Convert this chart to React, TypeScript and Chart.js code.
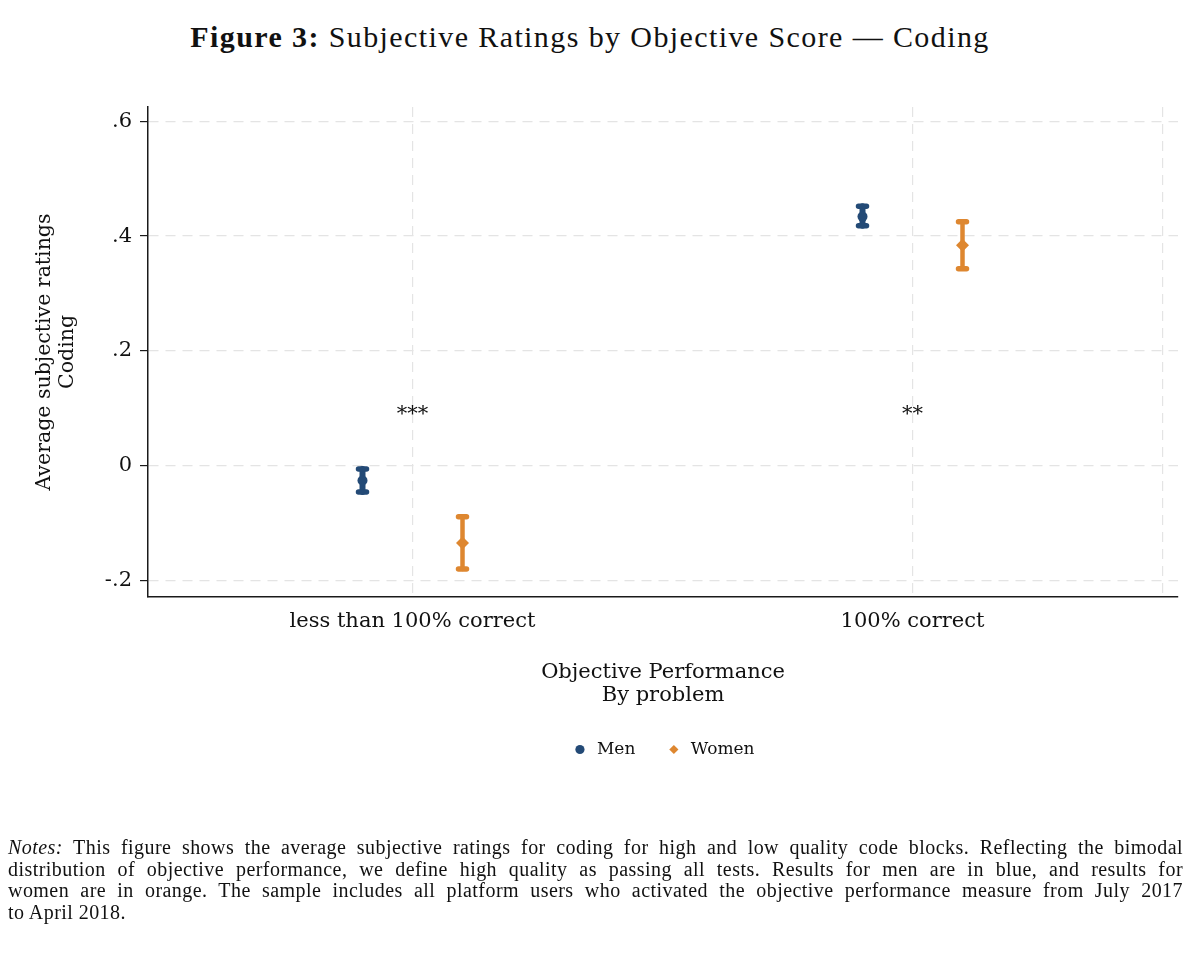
import React, { useEffect, useRef } from 'react';
import { Chart, registerables } from 'chart.js';

Chart.register(...registerables);

// categories on the x axis and where they sit on the linear scale
const categories = ['less than 100% correct', '100% correct'];
const categoryPositions = [1, 2];

// mean subjective rating and 95% CI, by objective score
const menMean = [-0.026, 0.434];
const menLow = [-0.046, 0.418];
const menHigh = [-0.006, 0.452];
const womenMean = [-0.135, 0.384];
const womenLow = [-0.18, 0.343];
const womenHigh = [-0.089, 0.425];

// significance of the gender gap
const sigStars = ['***', '**'];
const sigLevel = 0.1;

const yTicks = [-0.2, 0, 0.2, 0.4, 0.6];
const yTickLabels = ['-.2', '0', '.2', '.4', '.6'];
const xGridPositions = [1, 2, 2.5];

const menColor = '#234a76';
const womenColor = '#de8730';
const gridColor = '#e4e4e4';
const axisColor = '#1a1a1a';
const textColor = '#111111';
const chartFont = '"DejaVu Serif", serif';
const dodge = 0.1;

const errorBarPlugin = {
  id: 'errorBars',
  beforeDatasetsDraw(chart: any) {
    const { ctx, scales } = chart;
    const x = scales.x;
    const y = scales.y;
    chart.data.datasets.forEach((ds: any) => {
      ctx.save();
      ctx.strokeStyle = ds.borderColor;
      ctx.lineCap = 'round';
      ds.data.forEach((pt: any, j: number) => {
        const px = x.getPixelForValue(pt.x);
        const top = y.getPixelForValue(ds.ciHigh[j]);
        const bot = y.getPixelForValue(ds.ciLow[j]);
        ctx.lineWidth = ds.barWidth;
        ctx.beginPath();
        ctx.moveTo(px, top);
        ctx.lineTo(px, bot);
        ctx.stroke();
        ctx.lineWidth = 5.5;
        ctx.beginPath();
        ctx.moveTo(px - 4, top);
        ctx.lineTo(px + 4, top);
        ctx.moveTo(px - 4, bot);
        ctx.lineTo(px + 4, bot);
        ctx.stroke();
      });
      ctx.restore();
    });
  },
};

const starsPlugin = {
  id: 'sigStars',
  afterDatasetsDraw(chart: any) {
    const { ctx, scales } = chart;
    ctx.save();
    ctx.font = `21px ${chartFont}`;
    ctx.fillStyle = textColor;
    ctx.textAlign = 'center';
    ctx.textBaseline = 'alphabetic';
    sigStars.forEach((s, i) => {
      const px = scales.x.getPixelForValue(categoryPositions[i]);
      const py = scales.y.getPixelForValue(sigLevel);
      ctx.fillText(s, px, py + 12);
    });
    ctx.restore();
  },
};

const SubjectiveRatingsChart: React.FC = () => {
  const canvasRef = useRef<HTMLCanvasElement>(null);

  useEffect(() => {
    if (!canvasRef.current) return;
    const chart = new Chart(canvasRef.current, {
      type: 'scatter',
      data: {
        datasets: [
          {
            label: 'Men',
            data: menMean.map((v, i) => ({ x: categoryPositions[i] - dodge, y: v })),
            backgroundColor: menColor,
            borderColor: menColor,
            pointStyle: 'circle',
            pointRadius: 5,
            borderWidth: 0,
            ciLow: menLow,
            ciHigh: menHigh,
            barWidth: 6,
          } as any,
          {
            label: 'Women',
            data: womenMean.map((v, i) => ({ x: categoryPositions[i] + dodge, y: v })),
            backgroundColor: womenColor,
            borderColor: womenColor,
            pointStyle: 'rectRot',
            pointRadius: 6.5,
            borderWidth: 0,
            ciLow: womenLow,
            ciHigh: womenHigh,
            barWidth: 4.5,
          } as any,
        ],
      },
      options: {
        animation: false,
        responsive: true,
        maintainAspectRatio: false,
        events: [],
        layout: { padding: { top: 107, left: 0, right: 22, bottom: 185 } },
        scales: {
          x: {
            type: 'linear',
            min: 0.471,
            max: 2.531,
            afterBuildTicks: (s: any) => {
              s.ticks = xGridPositions.map((v) => ({ value: v }));
            },
            afterFit: (s: any) => {
              s.height = 114;
            },
            ticks: {
              autoSkip: false,
              maxRotation: 0,
              padding: 12,
              color: textColor,
              font: { family: chartFont, size: 21 },
              callback: (v: any) => {
                const i = categoryPositions.indexOf(v);
                return i >= 0 ? categories[i] : '';
              },
            },
            grid: { color: gridColor, lineWidth: 1.2, drawTicks: false },
            border: { color: axisColor, width: 1.5, dash: [10, 7] },
            title: {
              display: true,
              text: ['Objective Performance', 'By problem'],
              color: textColor,
              font: { family: chartFont, size: 21, lineHeight: '23px' },
              padding: { top: 0, bottom: 3.5 },
            },
          },
          y: {
            type: 'linear',
            min: -0.229,
            max: 0.625,
            afterBuildTicks: (s: any) => {
              s.ticks = yTicks.map((v) => ({ value: v }));
            },
            afterFit: (s: any) => {
              s.width = 148;
            },
            ticks: {
              padding: 8,
              color: textColor,
              font: { family: chartFont, size: 21 },
              callback: (v: any) => {
                const i = yTicks.indexOf(v);
                return i >= 0 ? yTickLabels[i] : '';
              },
            },
            grid: {
              color: gridColor,
              lineWidth: 1.2,
              drawTicks: true,
              tickLength: 8,
              tickColor: axisColor,
              tickWidth: 1.2,
              tickBorderDash: [],
            },
            border: { color: axisColor, width: 1.5, dash: [10, 7] },
            title: {
              display: true,
              text: ['Average subjective ratings', 'Coding'],
              color: textColor,
              font: { family: chartFont, size: 20.5, lineHeight: '23px' },
              padding: { top: 33.5, bottom: 0 },
            },
          },
        },
        plugins: {
          tooltip: { enabled: false },
          legend: {
            position: 'bottom',
            fullSize: false,
            labels: {
              usePointStyle: true,
              boxHeight: 6.5,
              boxWidth: 17,
              padding: 30,
              color: textColor,
              font: { family: chartFont, size: 17 },
            },
          },
        },
      },
      plugins: [errorBarPlugin, starsPlugin],
    });
    return () => {
      chart.destroy();
    };
  }, []);

  return (
    <div style={{ position: 'absolute', left: 0, top: 0, width: 1200, height: 953 }}>
      <canvas ref={canvasRef} aria-label="Subjective ratings by objective score, coding" role="img"></canvas>
    </div>
  );
};

const noteLines = [
  'This figure shows the average subjective ratings for coding for high and low quality code blocks. Reflecting the bimodal',
  'distribution of objective performance, we define high quality as passing all tests.  Results for men are in blue, and results for',
  'women are in orange. The sample includes all platform users who activated the objective performance measure from July 2017',
  'to April 2018.',
];

export default function App() {
  return (
    <div
      style={{
        position: 'fixed',
        left: 0,
        top: 0,
        width: 1200,
        height: 953,
        background: '#ffffff',
        color: textColor,
        fontFamily: '"Liberation Serif", serif',
        overflow: 'hidden',
      }}
    >
      <div
        style={{
          position: 'absolute',
          left: 590,
          top: 20,
          transform: 'translateX(-50%)',
          whiteSpace: 'nowrap',
          fontSize: 30,
          letterSpacing: 1.4,
        }}
      >
        <b>Figure 3:</b> Subjective Ratings by Objective Score — Coding
      </div>
      <SubjectiveRatingsChart />
      <div
        style={{
          position: 'absolute',
          left: 8,
          top: 837,
          width: 1175,
          fontSize: 20,
          lineHeight: '21.7px',
          letterSpacing: 0.45,
        }}
      >
        {noteLines.map((line, i) => (
          <div
            key={i}
            style={{
              textAlign: 'justify',
              textAlignLast: i < noteLines.length - 1 ? 'justify' : 'left',
              whiteSpace: 'nowrap',
            }}
          >
            {i === 0 && <i>Notes:</i>}
            {i === 0 ? ' ' : ''}
            {line}
          </div>
        ))}
      </div>
    </div>
  );
}
